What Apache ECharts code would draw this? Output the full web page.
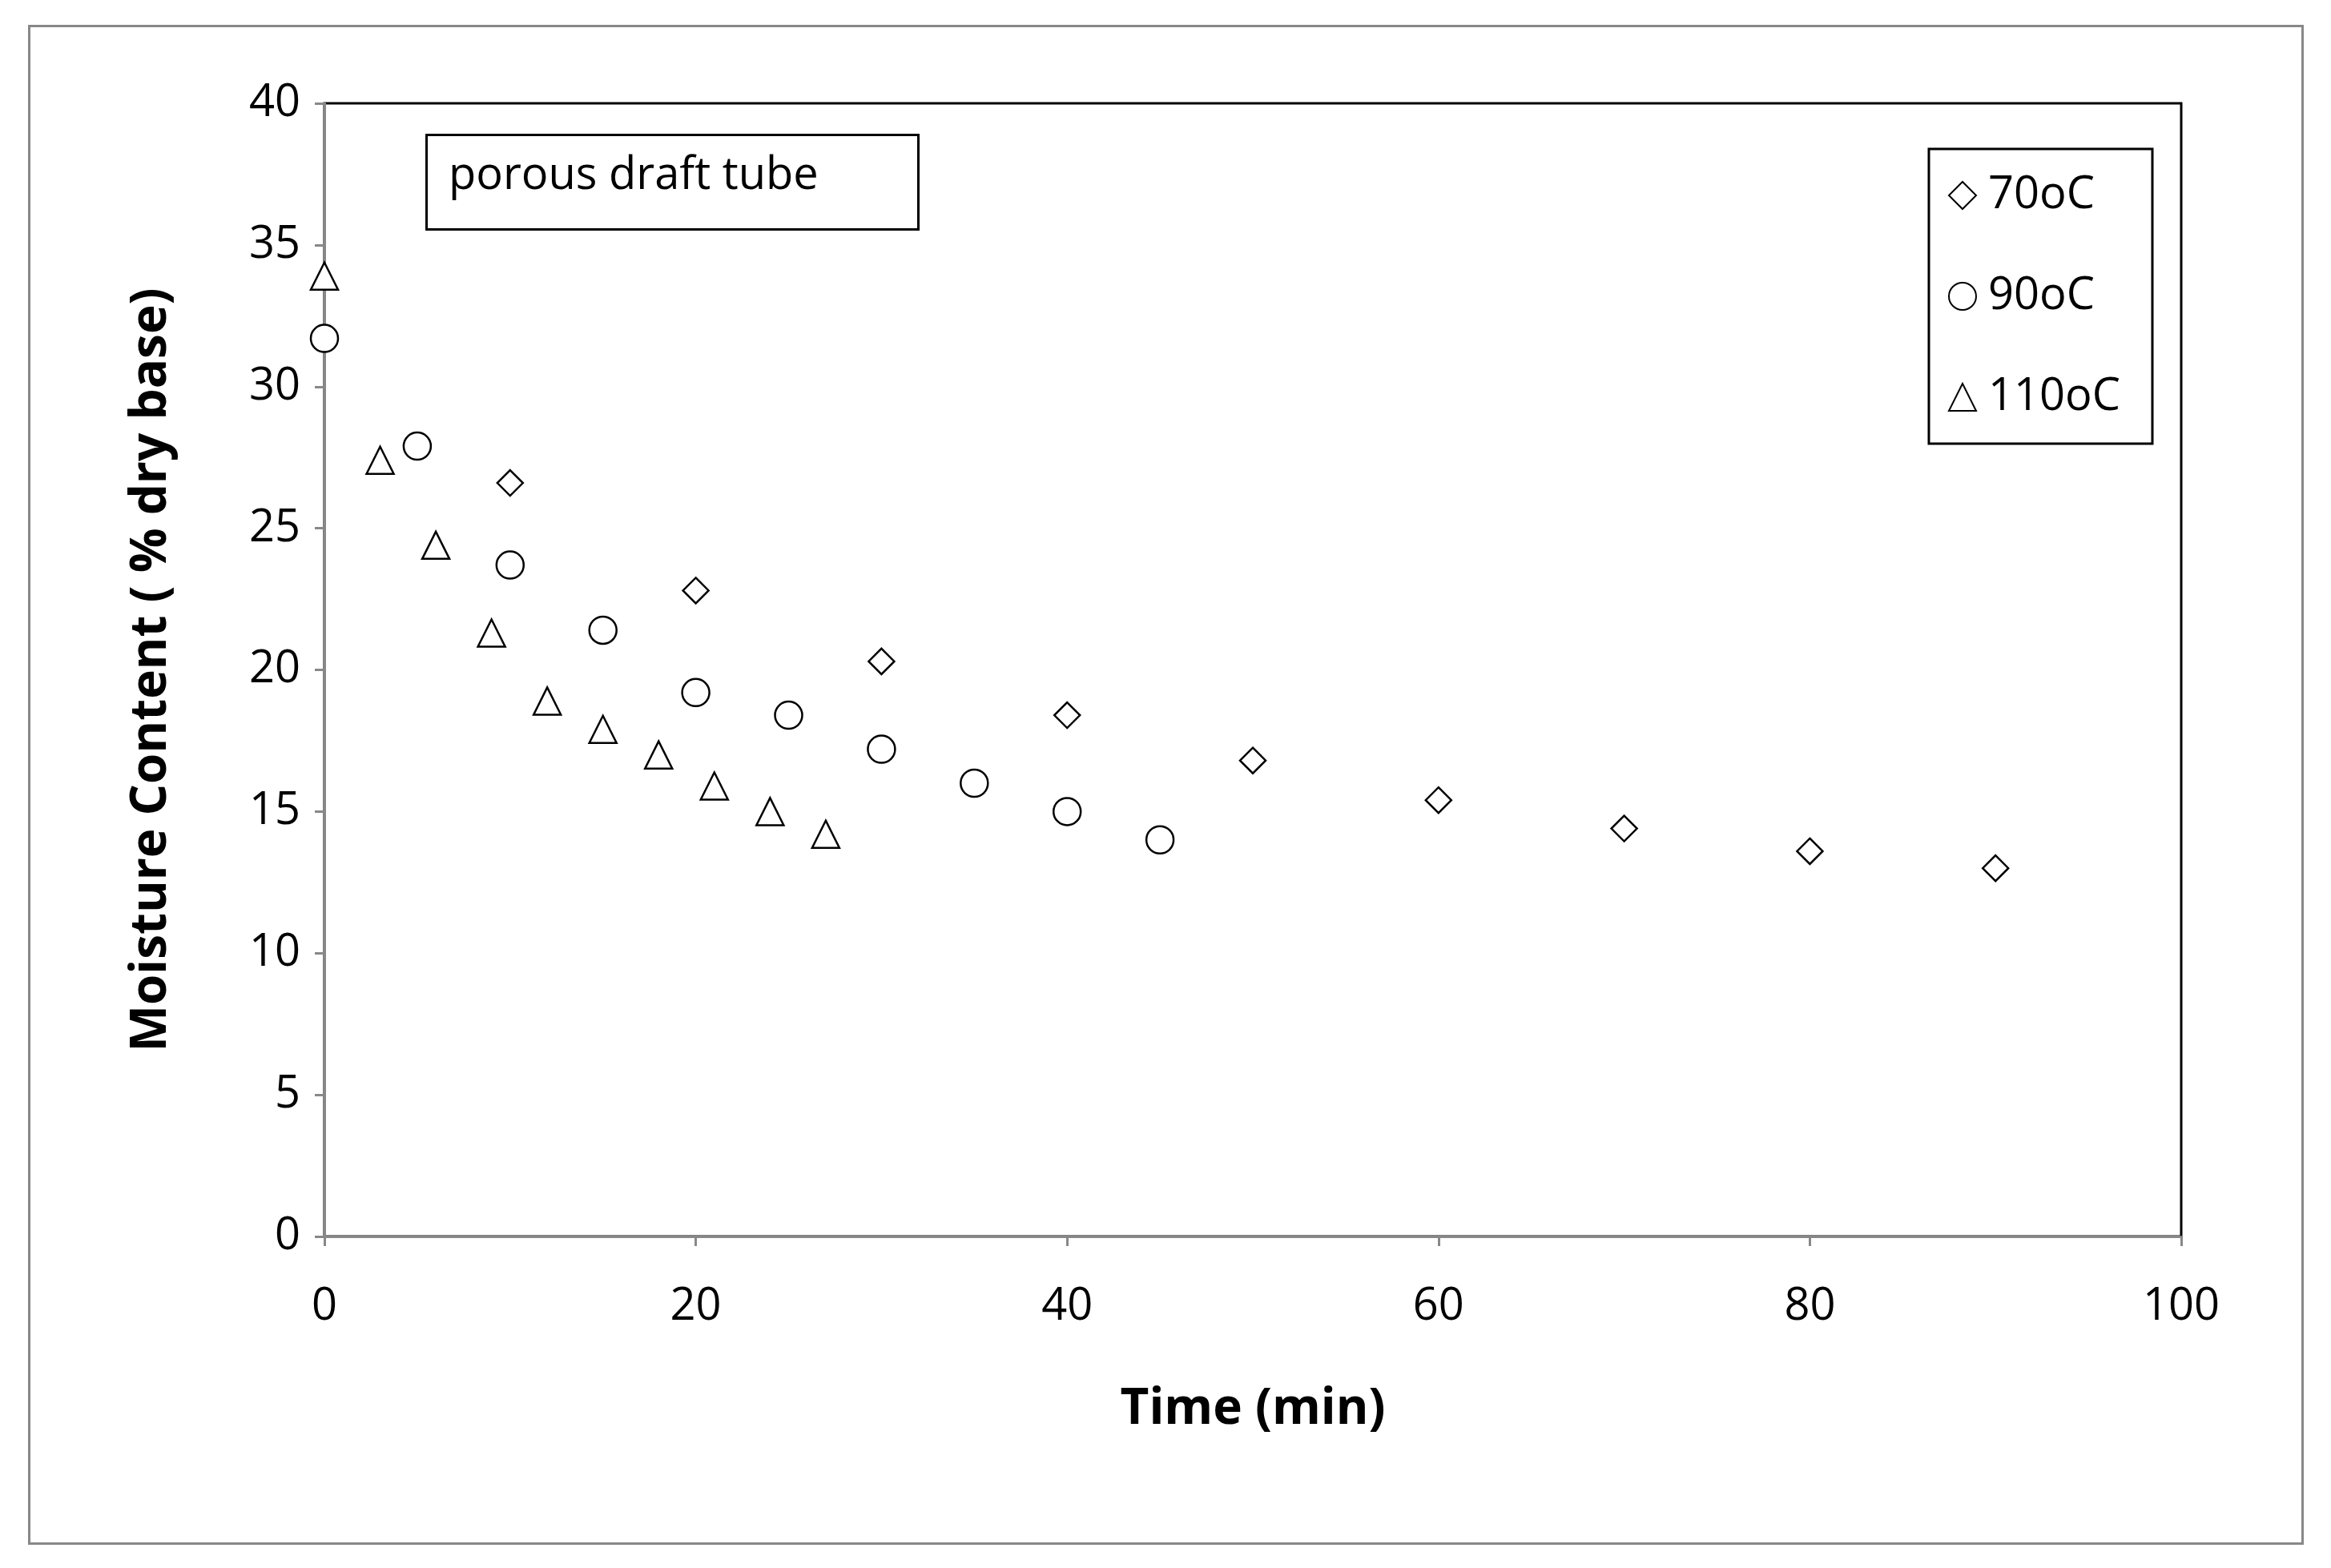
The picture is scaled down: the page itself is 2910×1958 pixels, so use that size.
<!DOCTYPE html>
<html>
<head>
<meta charset="utf-8">
<script src="https://cdn.jsdelivr.net/npm/echarts@6/dist/echarts.min.js"></script>
<style>html,body{margin:0;padding:0;background:#fff}#chart{width:2910px;height:1958px}</style>
</head>
<body>
<div id="chart"></div>
<script>
// moisture data
const t70 = [0, 10, 20, 30, 40, 50, 60, 70, 80, 90];
const m70 = [31.7, 26.6, 22.8, 20.3, 18.4, 16.8, 15.4, 14.4, 13.6, 13.0];
const t90 = [0, 5, 10, 15, 20, 25, 30, 35, 40, 45];
const m90 = [31.7, 27.9, 23.7, 21.4, 19.2, 18.4, 17.2, 16.0, 15.0, 14.0];
const t110 = [0, 3, 6, 9, 12, 15, 18, 21, 24, 27];
const m110 = [33.9, 27.4, 24.4, 21.3, 18.9, 17.9, 17.0, 15.9, 15.0, 14.2];

const pair = (xs, ys) => xs.map((x, i) => [x, ys[i]]);
const font = '"Open Sans", "Noto Sans", sans-serif';

const mk = (name, symbol, data, size) => ({
  name, type: 'scatter', symbol, symbolSize: size, data,
  itemStyle: { color: '#fff', borderColor: '#000', borderWidth: 2.5, opacity: 1 }
});

const chart = echarts.init(document.getElementById('chart'));
chart.setOption({
  backgroundColor: '#fff',
  animation: false,
  grid: { left: 405, right: 187, top: 129, bottom: 414, show: true, borderColor: '#000', borderWidth: 3 },
  xAxis: {
    type: 'value', min: 0, max: 100, interval: 20,
    name: 'Time (min)', nameLocation: 'middle', nameGap: 185,
    nameTextStyle: { fontFamily: font, fontSize: 62, fontWeight: 'bold', color: '#000' },
    axisLine: { lineStyle: { color: '#888', width: 3 } },
    axisTick: { show: true, length: 12, lineStyle: { color: '#888', width: 3 } },
    axisLabel: { fontFamily: font, fontSize: 56, color: '#000', margin: 60 },
    splitLine: { show: false }
  },
  yAxis: {
    type: 'value', min: 0, max: 40, interval: 5,
    name: 'Moisture Content ( % dry base)', nameLocation: 'middle', nameGap: 185,
    nameTextStyle: { fontFamily: font, fontSize: 62, fontWeight: 'bold', color: '#000' },
    axisLine: { show: true, lineStyle: { color: '#888', width: 3 } },
    axisTick: { show: true, length: 12, lineStyle: { color: '#888', width: 3 } },
    axisLabel: { fontFamily: font, fontSize: 56, color: '#000', margin: 30 },
    splitLine: { show: false }
  },
  legend: {
    orient: 'vertical', right: 223, top: 186, padding: [30, 40, 30, 24],
    itemGap: 70, itemWidth: 34, itemHeight: 34,
    borderColor: '#000', borderWidth: 3, backgroundColor: '#fff',
    textStyle: { fontFamily: font, fontSize: 56, color: '#000', padding: [0, 0, 0, 10] },
    data: ['70oC', '90oC', '110oC']
  },
  graphic: [
    { type: 'rect', left: 34, top: 30, shape: { width: 2838, height: 1895 }, style: { fill: 'none', stroke: '#888', lineWidth: 3 }, z: -1 },
    { type: 'rect', left: 531, top: 167, shape: { width: 614, height: 118 }, style: { fill: '#fff', stroke: '#000', lineWidth: 3 }, z: 10 },
    { type: 'text', left: 560, top: 192, style: { text: 'porous draft tube', fontFamily: font, fontSize: 56, fill: '#000' }, z: 11 }
  ],
  series: [
    mk('70oC', 'diamond', pair(t70, m70), 32),
    mk('90oC', 'circle', pair(t90, m90), 34),
    mk('110oC', 'triangle', pair(t110, m110), 34)
  ]
});
</script>
</body>
</html>
